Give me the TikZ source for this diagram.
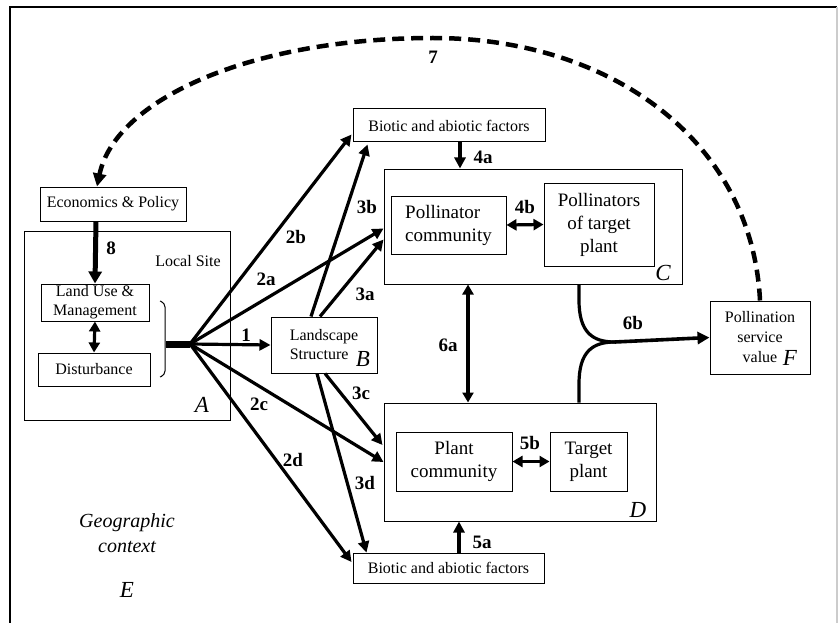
\documentclass[tikz,border=0pt]{standalone}
\usepackage{fontspec}
\setmainfont{Liberation Serif}
\usetikzlibrary{arrows.meta,calc}
\begin{document}
\begin{tikzpicture}[x=1pt,y=-1pt,
  box/.style={draw,line width=1pt,inner sep=0pt,align=center,font=\fontsize{16}{19}\selectfont},
  bigbox/.style={box,font=\fontsize{19}{23}\selectfont},
  lab/.style={font=\fontsize{19}{21}\selectfont\bfseries,inner sep=0pt},
  letter/.style={font=\fontsize{23}{25}\selectfont\itshape,inner sep=0pt},
  arr/.style={line width=3.2pt,-{Triangle[length=11pt,width=11pt]}},
  darr/.style={line width=3.2pt,{Triangle[length=10pt,width=11pt]}-{Triangle[length=10pt,width=11pt]}}]
\useasboundingbox (0,0) rectangle (838,623);
\draw[line width=1.5pt] (10,623) -- (10,7) -- (837,7);
\draw[line width=1.5pt,black!20] (837,7) -- (837,623);
\node[box,minimum width=206pt,minimum height=189pt] (siteA) at (127,325.5) {};
\node[box,minimum width=146pt,minimum height=34pt] (econ) at (113,204) {Economics \& Policy};
\node[box,minimum width=108pt,minimum height=37pt] (landuse) at (95,302.5) {Land Use \&\\Management};
\node[box,minimum width=112pt,minimum height=33pt] (disturb) at (94,369.5) {Disturbance};
\node[box,minimum width=106pt,minimum height=56pt,align=left] (land) at (324,345) {Landscape\\Structure};
\node[box,minimum width=192pt,minimum height=33pt] (biotop) at (449,125.5) {Biotic and abiotic factors};
\node[box,minimum width=191pt,minimum height=30pt] (biobot) at (448.5,568) {Biotic and abiotic factors};
\node[box,minimum width=298pt,minimum height=115pt] (boxC) at (533,226.5) {};
\node[bigbox,minimum width=115pt,minimum height=58pt,align=left] (pollcom) at (448.5,225) {Pollinator\\community};
\node[bigbox,minimum width=110pt,minimum height=83pt] (polltar) at (599,224.5) {Pollinators\\of target\\plant};
\node[box,minimum width=272pt,minimum height=118pt] (boxD) at (520,462) {};
\node[bigbox,minimum width=116pt,minimum height=59pt] (plantcom) at (454,461.5) {Plant\\community};
\node[bigbox,minimum width=77pt,minimum height=59pt] (target) at (588.5,461.5) {Target\\plant};
\node[box,minimum width=100pt,minimum height=73pt,font=\fontsize{16}{20}\selectfont] (value) at (760,337.5) {Pollination\\service\\value};
\node[font=\fontsize{16}{19}\selectfont] (site) at (188,261) {Local Site};
\node[letter] (A) at (202,405) {A};
\node[letter] (B) at (363,359) {B};
\node[letter] (C) at (663,273) {C};
\node[letter] (D) at (638,510) {D};
\node[letter] (F) at (790,358) {F};
\node[font=\fontsize{20}{25}\selectfont\itshape,align=center] (geo) at (127,533) {Geographic\\context};
\node[letter] (E) at (127,590) {E};
% local site
\draw[line width=1pt,rounded corners=4pt] (160,301) -- (165,303) -- (165,375) -- (160,377);
\coordinate (stub) at (166,344);
\coordinate (hub) at (190,344);
\draw[line width=7pt] (stub) -- (hub);
\draw[line width=5pt,-{Triangle[length=12pt,width=13pt]}] ($(econ.south)+(-17,0)$) -- (landuse.north);
\draw[darr] (landuse.south) -- (disturb.north);
% arrows from A
\draw[arr] (hub) -- (land.west);
\draw[arr] (hub) -- ($(biotop.south west)+(-1,-8)$);
\draw[arr] (hub) -- ($(boxC.west)+(0,2)$);
\draw[arr] (hub) -- (boxD.west);
\draw[arr] (hub) -- ($(biobot.west)+(-1,-6)$);
% arrows from B
\draw[arr] ($(land.north)+(-13,0)$) -- ($(biotop.south west)+(15,2)$);
\draw[arr] ($(land.north)+(-4,0)$) -- ($(boxC.west)+(0,13)$);
\draw[arr] ($(land.south)+(1,0)$) -- ($(boxD.west)+(-1,-17)$);
\draw[arr] ($(land.south)+(-7,0)$) -- ($(biobot.north west)+(14,0)$);
% C and D
\draw[arr] ($(biotop.south)+(11,0)$) -- ($(boxC.north)+(-73,0)$);
\draw[darr] (pollcom.east) -- (polltar.west);
\draw[arr] ($(biobot.north)+(10.5,0)$) -- ($(boxD.south)+(-61,0)$);
\draw[darr] (plantcom.east) -- (target.west);
\draw[darr] ($(boxC.south)+(-65,0)$) -- ($(boxD.north)+(-52,0)$);
\coordinate (join) at (615,342);
\draw[line width=3.2pt] ($(boxC.south)+(46,0)$) -- (579,300) .. controls (579,332) and (592,342) .. (join);
\draw[line width=3.2pt] ($(boxD.north)+(59,0)$) -- (579,384) .. controls (579,352) and (592,342) .. (join);
\draw[line width=3.6pt,-{Triangle[length=12pt,width=12pt]}] (join) -- (value.west);
% feedback 7
\draw[line width=4.5pt,dash pattern=on 12pt off 7pt,-{Triangle[length=13pt,width=13pt]}] (value.north) .. controls (752,140) and (610,38) .. (433,38) .. controls (250,38) and (115,100) .. (econ.north -| 97,0);
% labels
\node[lab] (l1) at (246,335) {1};
\node[lab] (l2a) at (266,279) {2a};
\node[lab] (l2b) at (296,237) {2b};
\node[lab] (l2c) at (259,404) {2c};
\node[lab] (l2d) at (293,460) {2d};
\node[lab] (l3a) at (365,294) {3a};
\node[lab] (l3b) at (367,207) {3b};
\node[lab] (l3c) at (361,393) {3c};
\node[lab] (l3d) at (365,483) {3d};
\node[lab] (l4a) at (483,157) {4a};
\node[lab] (l4b) at (525,207) {4b};
\node[lab] (l5a) at (482,542) {5a};
\node[lab] (l5b) at (530,443) {5b};
\node[lab] (l6a) at (448,345) {6a};
\node[lab] (l6b) at (633,323) {6b};
\node[lab] (l7) at (433,57) {7};
\node[lab] (l8) at (111,248) {8};
\end{tikzpicture}
\end{document}
